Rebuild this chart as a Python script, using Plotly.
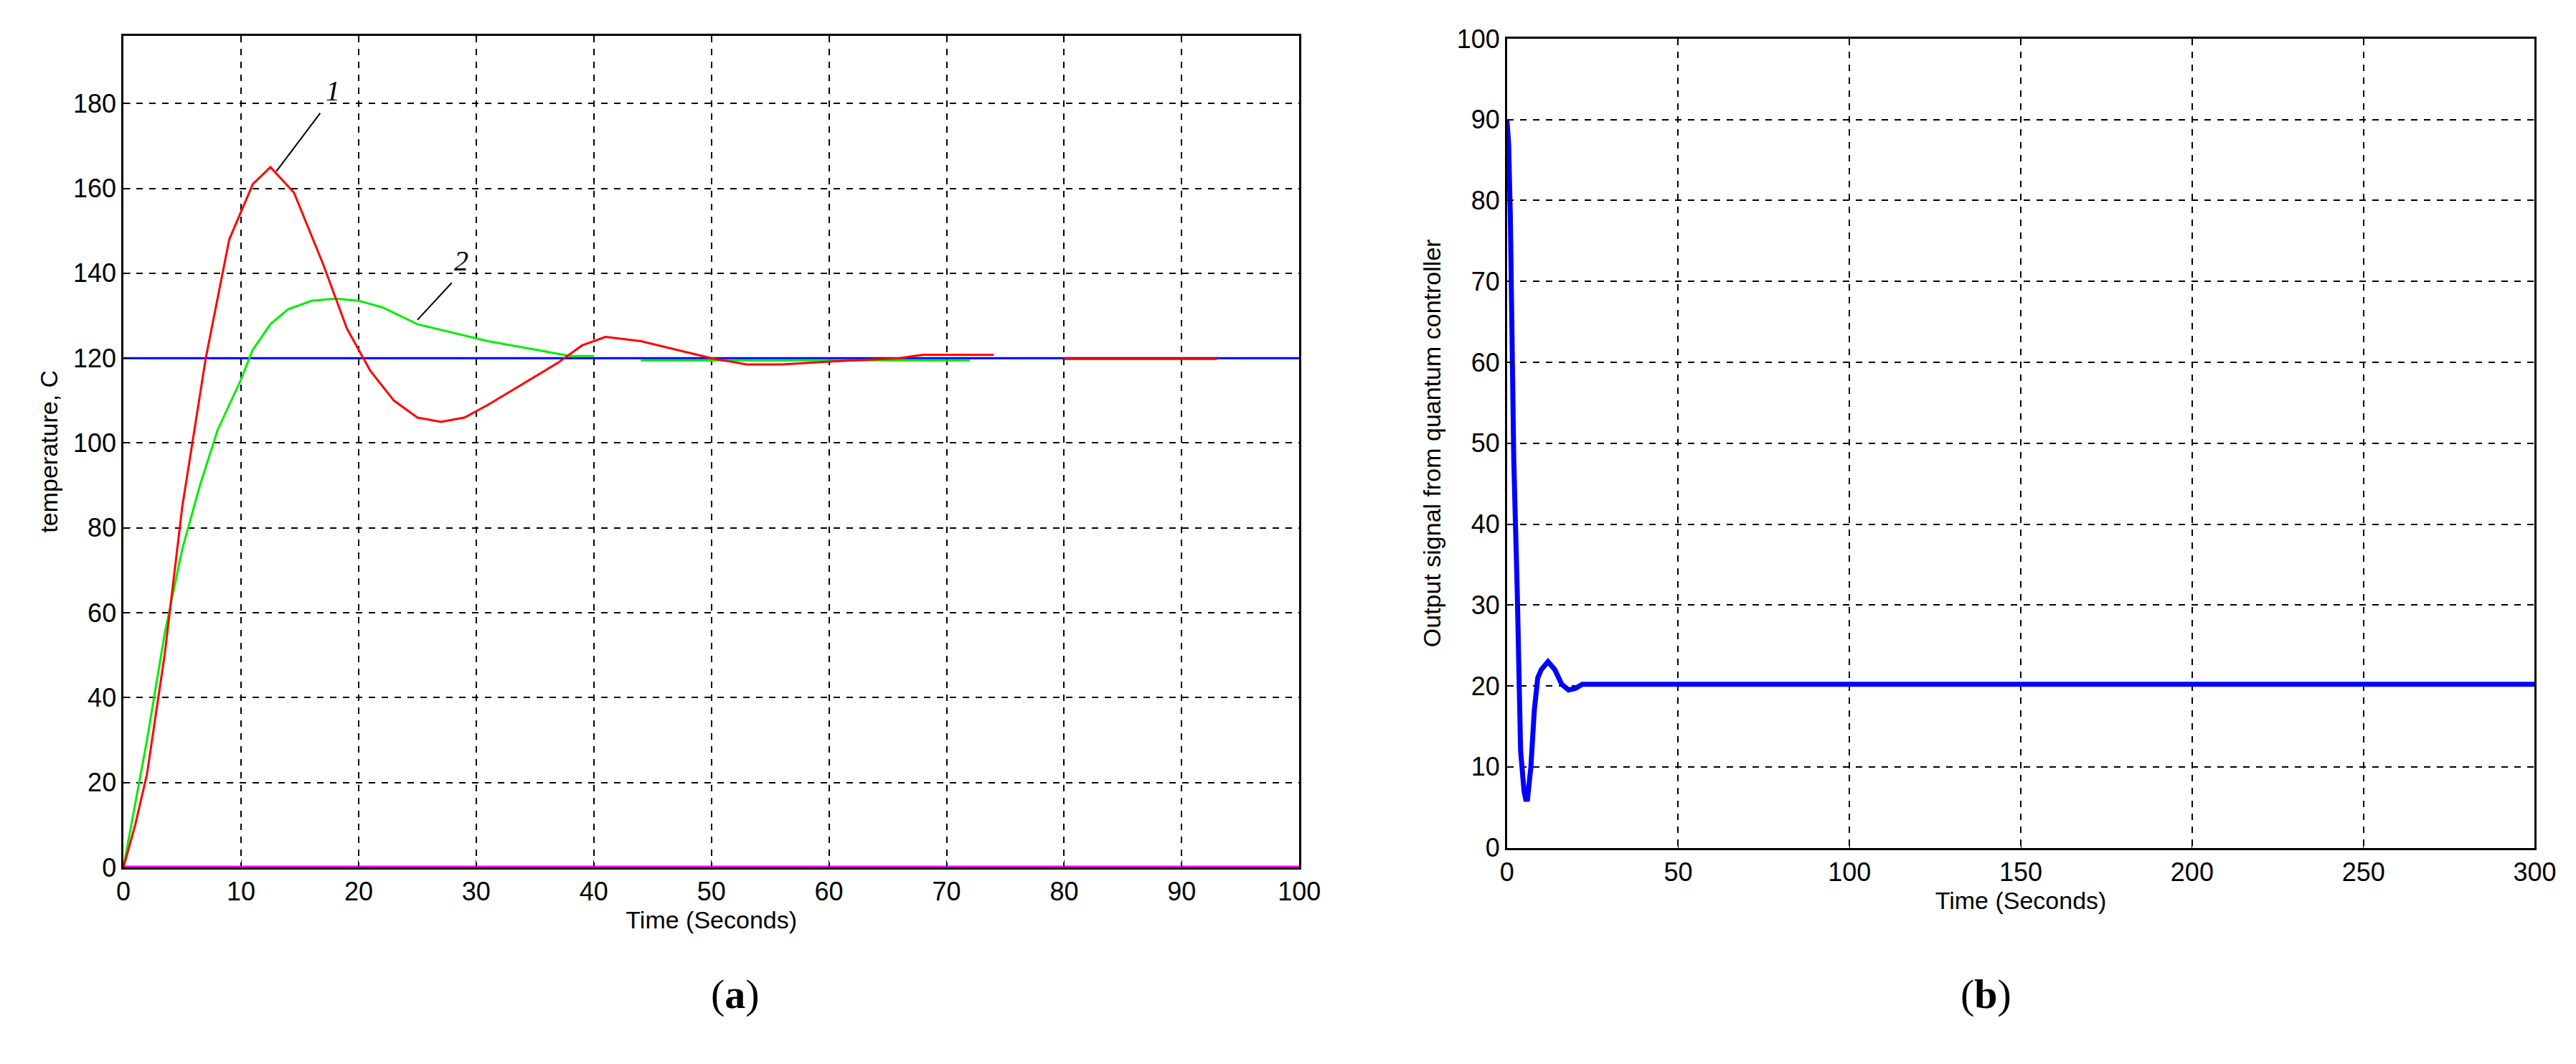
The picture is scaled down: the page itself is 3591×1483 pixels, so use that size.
import plotly.graph_objects as go

# Panel (a)
t_red = [0, 1, 2, 3.5, 5, 7, 9, 11, 12.5, 14.5, 17, 19, 21, 23, 25, 27, 29, 31, 34, 37, 39, 41, 44, 47, 50, 53, 56, 59, 62, 66, 68, 70, 74, None, 80, 93]
y_red = [0, 10, 22, 50, 85, 120, 148, 161, 165, 159, 142, 127, 117, 110, 106, 105, 106, 109, 114, 119, 123, 125, 124, 122, 120, 118.5, 118.5, 119, 119.5, 120, 120.8, 120.8, 120.8, None, 119.8, 119.8]
t_green = [0, 1, 2, 3.5, 5, 6.5, 8, 10, 11, 12.5, 14, 16, 18, 20, 22, 25, 28, 31, 35, 38, 40, None, 44, 72]
y_green = [0, 15, 30, 55, 75, 90, 103, 115, 122, 128, 131.5, 133.5, 134, 133.5, 132, 128, 126, 124, 122, 120.5, 120.5, None, 119.5, 119.5]
t_ref = [0, 100]
y_ref = [120, 120]
y_zero = [0, 0]
xticks_a = list(range(0, 101, 10))
yticks_a = list(range(0, 181, 20))

# Panel (b)
t_b = [0, 0.5, 1, 1.5, 2, 3, 3.5, 4, 5, 5.5, 6, 7, 8, 9, 10, 12, 14, 16, 18, 20, 22, 300]
y_b = [90, 87, 78, 62, 48, 32, 22, 12, 7, 6, 6, 10, 17, 21, 22, 23, 22, 20.2, 19.5, 19.7, 20.2, 20.2]
xticks_b = list(range(0, 301, 50))
yticks_b = list(range(0, 101, 10))

fig = go.Figure()
fig.add_trace(go.Scatter(x=t_ref, y=y_ref, mode="lines", line=dict(color="#0000ff", width=3)))
fig.add_trace(go.Scatter(x=t_ref, y=y_zero, mode="lines", line=dict(color="#ff00ff", width=5)))
fig.add_trace(go.Scatter(x=t_green, y=y_green, mode="lines", line=dict(color="#00ee00", width=3)))
fig.add_trace(go.Scatter(x=t_red, y=y_red, mode="lines", line=dict(color="#ff0000", width=3)))
fig.add_trace(go.Scatter(x=t_b, y=y_b, mode="lines", line=dict(color="#0000ff", width=7), xaxis="x2", yaxis="y2"))

tickfont = dict(family="Liberation Sans", size=36, color="black")
titlefont = dict(family="Liberation Sans", size=34, color="black")
common = dict(showline=True, linecolor="black", linewidth=2.5, mirror=True, ticks="inside", ticklen=10,
              tickcolor="black", showgrid=True, gridcolor="black", griddash="dash", gridwidth=2,
              zeroline=False, tickfont=tickfont)

fig.update_layout(
    width=3591, height=1483, showlegend=False,
    paper_bgcolor="white", plot_bgcolor="white",
    margin=dict(l=0, r=0, t=0, b=0),
    xaxis=dict(domain=[0.0434, 0.505], range=[0, 100], tickvals=xticks_a, anchor="y",
               title=dict(text="Time (Seconds)", font=titlefont, standoff=6), **common),
    yaxis=dict(domain=[0.181, 0.985], range=[0, 196], tickvals=yticks_a, anchor="x",
               title=dict(text="temperature, C", font=titlefont, standoff=12), **common),
    xaxis2=dict(domain=[0.5865, 0.990], range=[0, 300], tickvals=xticks_b, anchor="y2",
                title=dict(text="Time (Seconds)", font=titlefont, standoff=6), **common),
    yaxis2=dict(domain=[0.200, 0.982], range=[0, 100], tickvals=yticks_b, anchor="x2",
                title=dict(text="Output signal from quantum controller", font=titlefont, standoff=12), **common),
)

fig.add_annotation(x=13, y=164, ax=16.8, ay=178, xref="x", yref="y", axref="x", ayref="y",
                   showarrow=True, arrowhead=0, arrowwidth=2, arrowcolor="black", text="")
fig.add_annotation(x=17.8, y=183, xref="x", yref="y", text="<i>1</i>", showarrow=False,
                   font=dict(family="Liberation Serif", size=40, color="black"))
fig.add_annotation(x=25, y=129, ax=28, ay=138, xref="x", yref="y", axref="x", ayref="y",
                   showarrow=True, arrowhead=0, arrowwidth=2, arrowcolor="black", text="")
fig.add_annotation(x=28.7, y=143, xref="x", yref="y", text="<i>2</i>", showarrow=False,
                   font=dict(family="Liberation Serif", size=40, color="black"))

fig.add_annotation(x=0.2735, y=0.035, xref="paper", yref="paper", text="(<b>a</b>)", showarrow=False,
                   font=dict(family="Liberation Serif", size=58, color="black"))
fig.add_annotation(x=0.785, y=0.035, xref="paper", yref="paper", text="(<b>b</b>)", showarrow=False,
                   font=dict(family="Liberation Serif", size=58, color="black"))

fig.write_html("out.html")
